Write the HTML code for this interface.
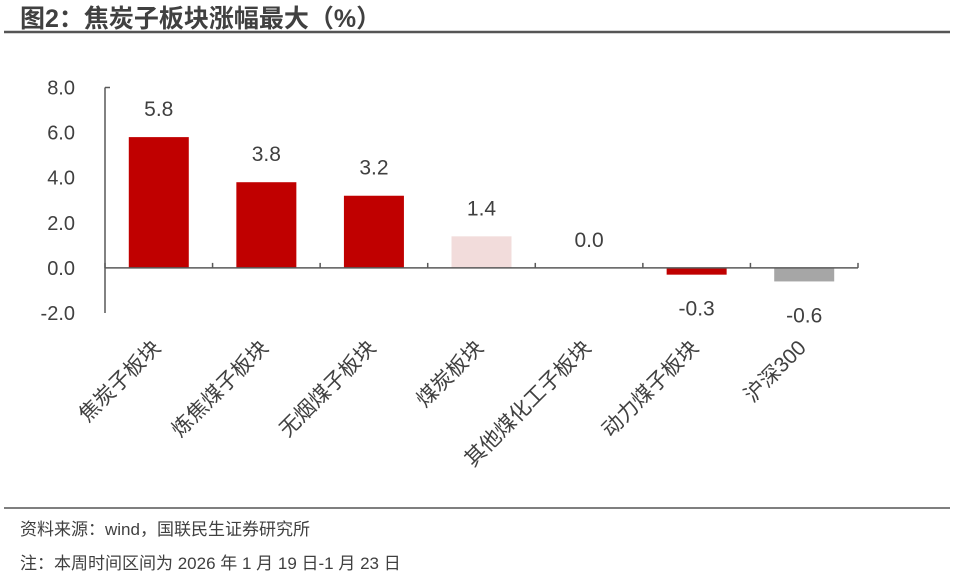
<!DOCTYPE html>
<html><head><meta charset="utf-8"><style>
body{margin:0;background:#fff;width:961px;height:583px;overflow:hidden;font-family:"Liberation Sans","Noto Sans CJK SC",sans-serif;}
</style></head><body>
<svg id="chart" width="961" height="583" xmlns="http://www.w3.org/2000/svg" font-family="Liberation Sans, Noto Sans CJK SC, sans-serif">
<text x="20" y="27" font-size="25" font-weight="bold" fill="#404040">图2：焦炭子板块涨幅最大（%）</text>
<line x1="4" y1="32" x2="950" y2="32" stroke="#555" stroke-width="2.5"/>
<line x1="4" y1="508" x2="950" y2="508" stroke="#555" stroke-width="1.5"/>
<text x="20" y="535" font-size="17" fill="#404040">资料来源：wind，国联民生证券研究所</text>
<text x="20" y="569" font-size="17" fill="#404040">注：本周时间区间为 2026 年 1 月 19 日-1 月 23 日</text>
<g id="plot"></g>
</svg>
<script>
const categories=["焦炭子板块","炼焦煤子板块","无烟煤子板块","煤炭板块","其他煤化工子板块","动力煤子板块","沪深300"];
const values=[5.8,3.8,3.2,1.4,0.0,-0.3,-0.6];
const labels=["5.8","3.8","3.2","1.4","0.0","-0.3","-0.6"];
const colors=["#C00000","#C00000","#C00000","#F2DCDB","#C00000","#C00000","#A6A6A6"];
const yTicks=[8,6,4,2,0,-2];
const yTickLabels=["8.0","6.0","4.0","2.0","0.0","-2.0"];
const ns="http://www.w3.org/2000/svg";
const g=document.getElementById('plot');
const x0=105,x1=858,yMin=-2,yMax=8,pTop=87.5,pBot=313;
const y=v=>pBot-(v-yMin)/(yMax-yMin)*(pBot-pTop);
const bw=(x1-x0)/categories.length;
const cx=i=>x0+bw*(i+0.5);
function mk(t,a){const e=document.createElementNS(ns,t);for(const k in a)e.setAttribute(k,a[k]);g.appendChild(e);return e;}
let ax=mk('line',{x1:x0,y1:pTop,x2:x0,y2:pBot,stroke:'#595959','stroke-width':1.5});


yTicks.forEach((v,i)=>{
 let l=mk('text',{x:x0-30,y:y(v)+7,'font-size':20,fill:'#404040','text-anchor':'end'});
 l.textContent=yTickLabels[i];
 
 
});
let tt=mk('line',{x1:x0,y1:pTop,x2:x0+5,y2:pTop,stroke:'#595959','stroke-width':1.5});


values.forEach((v,i)=>{
 const c=cx(i),top=Math.min(y(v),y(0)),h=Math.abs(y(v)-y(0));
 let r=mk('rect',{x:c-30,y:top,width:60,height:Math.max(h,0),fill:colors[i]});
 
 
 let vl=mk('text',{x:c,y:v>=0?y(v)-21:y(v)+41,'font-size':21,fill:'#404040','text-anchor':'middle'});
 vl.textContent=labels[i];
 
 
 let cl=mk('text',{x:0,y:0,'font-size':21,fill:'#404040','text-anchor':'end',transform:`translate(${c+3},${349}) rotate(-45)`});
 cl.textContent=categories[i];
 
 
});
let xa=mk('line',{x1:x0,y1:y(0),x2:x1,y2:y(0),stroke:'#595959','stroke-width':1.5});


for(let i=0;i<=categories.length;i++){
 let t=mk('line',{x1:x0+bw*i,y1:y(0),x2:x0+bw*i,y2:y(0)-5,stroke:'#595959','stroke-width':1.5});
 
 
}
</script>
</body></html>
